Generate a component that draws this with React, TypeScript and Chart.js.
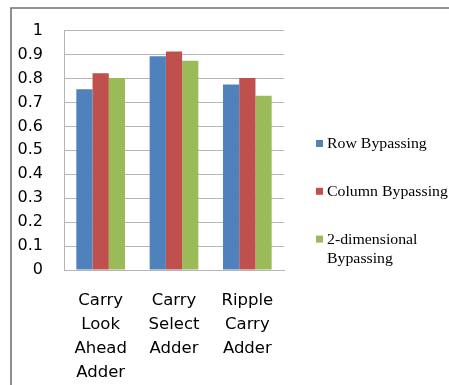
import React, { useEffect, useRef } from "react";
import { Chart, registerables } from "chart.js";

Chart.register(...registerables);

// Adder types (x categories, one label line per array entry)
const categories: string[][] = [
  ["Carry", "Look", "Ahead", "Adder"],
  ["Carry", "Select", "Adder"],
  ["Ripple", "Carry", "Adder"],
];

// Series
const seriesNames: string[][] = [
  ["Row Bypassing"],
  ["Column Bypassing"],
  ["2-dimensional", "Bypassing"],
];
const rowBypassing = [0.755, 0.893, 0.775];
const columnBypassing = [0.822, 0.913, 0.802];
const twoDimBypassing = [0.802, 0.874, 0.728];

const seriesColors = ["#4F81BD", "#C0504D", "#9BBB59"];

// Y axis ticks
const yMin = 0;
const yMax = 1;
const yStep = 0.1;

// Frame around the chart (top and left edges)
const framePlugin = {
  id: "frame",
  beforeDraw(chart: Chart) {
    const { ctx, width, height } = chart;
    ctx.save();
    ctx.fillStyle = "#ffffff";
    ctx.fillRect(0, 0, width, height);
    ctx.strokeStyle = "#737373";
    ctx.lineWidth = 1.6;
    ctx.beginPath();
    ctx.moveTo(11, height);
    ctx.lineTo(11, 8);
    ctx.lineTo(width, 8);
    ctx.stroke();
    ctx.restore();
  },
};

// Legend on the right, drawn with a serif face and wrapped entries
const sideLegendPlugin = {
  id: "sideLegend",
  afterDraw(chart: Chart) {
    const { ctx } = chart;
    const markerX = 316;
    const textX = 327;
    const firstCenter = 143.5;
    const rowStep = 47.8;
    const lineStep = 19.5;
    const stretch = 1.13;
    ctx.save();
    ctx.font = "14px 'Liberation Serif', 'Times New Roman', serif";
    ctx.textBaseline = "alphabetic";
    ctx.textAlign = "left";
    chart.data.datasets.forEach((ds, i) => {
      const cy = firstCenter + i * rowStep;
      ctx.fillStyle = ds.backgroundColor as string;
      ctx.fillRect(markerX, cy - 3.5, 7, 7);
      ctx.fillStyle = "#000000";
      const lines = seriesNames[i];
      lines.forEach((line, j) => {
        ctx.save();
        ctx.translate(textX, cy + 4.5 + j * lineStep);
        ctx.scale(stretch, 1);
        ctx.fillText(line, 0, 0);
        ctx.restore();
      });
    });
    ctx.restore();
  },
};

export default function App() {
  const canvasRef = useRef<HTMLCanvasElement | null>(null);

  useEffect(() => {
    if (!canvasRef.current) return;
    const gridColor = "#b5b5b5";
    const chart = new Chart(canvasRef.current, {
      type: "bar",
      data: {
        labels: categories,
        datasets: [
          { label: seriesNames[0].join(" "), data: rowBypassing, backgroundColor: seriesColors[0] },
          { label: seriesNames[1].join(" "), data: columnBypassing, backgroundColor: seriesColors[1] },
          { label: seriesNames[2].join(" "), data: twoDimBypassing, backgroundColor: seriesColors[2] },
        ],
      },
      options: {
        animation: false,
        responsive: true,
        maintainAspectRatio: false,
        layout: { padding: { left: 0, top: 21, right: 165, bottom: 0 } },
        datasets: {
          bar: { categoryPercentage: 0.664, barPercentage: 1 },
        },
        plugins: {
          legend: { display: false },
          tooltip: { enabled: false },
          title: { display: false },
        },
        scales: {
          x: {
            grid: { display: false, drawTicks: false },
            border: { display: true, color: gridColor },
            ticks: {
              autoSkip: false,
              maxRotation: 0,
              minRotation: 0,
              padding: 19,
              color: "#000000",
              font: { family: "'DejaVu Sans', sans-serif", size: 16.5, lineHeight: 1.45 },
            },
            afterFit(scale: any) {
              scale.height = 115;
            },
          },
          y: {
            min: yMin,
            max: yMax,
            grid: { color: gridColor, drawTicks: false },
            border: { display: true, color: gridColor },
            ticks: {
              stepSize: yStep,
              padding: 21,
              color: "#000000",
              font: { family: "'DejaVu Sans', sans-serif", size: 16 },
              callback: (v: any) => String(Number(Number(v).toFixed(1))),
            },
            afterFit(scale: any) {
              scale.width = 64;
            },
          },
        },
      },
      plugins: [framePlugin, sideLegendPlugin],
    });
    return () => chart.destroy();
  }, []);

  return (
    <div style={{ position: "fixed", left: 0, top: 0, width: 449, height: 385 }}>
      <canvas ref={canvasRef} />
    </div>
  );
}
